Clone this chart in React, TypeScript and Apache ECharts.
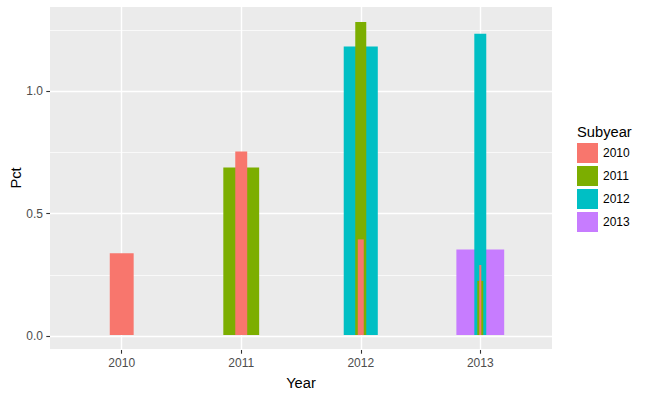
import React, { useEffect, useRef } from "react";
import * as echarts from "echarts";

// ---- data ----
const YEARS = ["2010", "2011", "2012", "2013"];
const SUBYEARS = ["2010", "2011", "2012", "2013"];
const PCT_2010 = [0.335, 0.752, 0.392, 0.287];
const PCT_2011 = [null, 0.687, 1.283, 0.222];
const PCT_2012 = [null, null, 1.183, 1.235];
const PCT_2013 = [null, null, null, 0.351];
// bar widths (in category units) as drawn in the reference
const WIDTH_2010 = [0.2, 0.1, 0.05, 0.017];
const WIDTH_2011 = [null, 0.3, 0.092, 0.05];
const WIDTH_2012 = [null, null, 0.285, 0.1];
const WIDTH_2013 = [null, null, null, 0.4];
const Y_MAJOR_STEP = 0.5;
const Y_MAJOR_MAX = 1.0;
const Y_MINOR_STEP = 0.25;
const Y_MINOR_MAX = 1.25;

const PCTS = [PCT_2010, PCT_2011, PCT_2012, PCT_2013];
const WIDTHS = [WIDTH_2010, WIDTH_2011, WIDTH_2012, WIDTH_2013];
const COLORS = ["#F8766D", "#7CAE00", "#00BFC4", "#C77CFF"];

// ---- layout ----
const FONT = "'Liberation Sans', Arial, sans-serif";
const PANEL = { left: 50, top: 7, right: 552, bottom: 350 };
const ZERO_Y = 336;
const PX_PER_UNIT = 244.67;
const X_EXPAND = 0.6;
const PANEL_W = PANEL.right - PANEL.left;
const PANEL_H = PANEL.bottom - PANEL.top;
const CAT_UNIT = PANEL_W / (YEARS.length - 1 + 2 * X_EXPAND);
const Y_MIN = -(PANEL.bottom - ZERO_Y) / PX_PER_UNIT;
const Y_MAX = (ZERO_Y - PANEL.top) / PX_PER_UNIT;

export default function App() {
  const ref = useRef<HTMLDivElement>(null);

  useEffect(() => {
    if (!ref.current) return;
    const chart = echarts.init(ref.current, undefined, { renderer: "svg" });

    const order = [3, 2, 1, 0]; // wider bars drawn first
    const series = order.map((s) => {
      const color = COLORS[s];
      const data: number[][] = [];
      PCTS[s].forEach((v, i) => {
        const w = WIDTHS[s][i];
        if (v !== null && w !== null) data.push([i, v as number, w as number]);
      });
      return {
        type: "custom",
        name: SUBYEARS[s],
        xAxisIndex: 0,
        yAxisIndex: 0,
        itemStyle: { color },
        encode: { x: 0, y: 1 },
        clip: false,
        silent: true,
        z: 5,
        data,
        renderItem: (_params: any, api: any) => {
          const x = api.value(0);
          const v = api.value(1);
          const w = api.value(2);
          const tl = api.coord([x - w / 2, v]);
          const br = api.coord([x + w / 2, 0]);
          return {
            type: "rect",
            shape: { x: tl[0], y: tl[1], width: br[0] - tl[0], height: br[1] - tl[1] },
            style: { fill: color },
          };
        },
      };
    });

    const hiddenValueAxis = (gridIndex: number) => ({
      gridIndex,
      type: "value",
      show: false,
      min: 0,
      max: 1,
    });

    chart.setOption({
      animation: false,
      textStyle: { fontFamily: FONT },
      grid: [
        {
          left: PANEL.left,
          top: PANEL.top,
          width: PANEL_W,
          height: PANEL_H,
          show: true,
          backgroundColor: "#EBEBEB",
          borderWidth: 0,
        },
        {
          left: PANEL.left,
          top: ZERO_Y - Y_MAJOR_MAX * PX_PER_UNIT,
          width: PANEL_W,
          height: Y_MAJOR_MAX * PX_PER_UNIT,
        },
        {
          left: PANEL.left + X_EXPAND * CAT_UNIT,
          top: PANEL.top,
          width: (YEARS.length - 1) * CAT_UNIT,
          height: PANEL_H,
        },
        {
          left: PANEL.left,
          top: ZERO_Y - Y_MINOR_MAX * PX_PER_UNIT,
          width: PANEL_W,
          height: Y_MINOR_MAX * PX_PER_UNIT,
        },
      ],
      xAxis: [
        {
          gridIndex: 0,
          type: "value",
          min: -X_EXPAND,
          max: YEARS.length - 1 + X_EXPAND,
          axisLine: { show: false },
          axisTick: { show: false },
          axisLabel: { show: false },
          splitLine: { show: false },
          name: "Year",
          nameLocation: "middle",
          nameGap: 26,
          nameTextStyle: { fontSize: 14.7, color: "#000", fontFamily: FONT },
        },
        hiddenValueAxis(1),
        {
          gridIndex: 2,
          type: "category",
          data: YEARS,
          boundaryGap: false,
          axisLine: { show: false },
          axisTick: { show: true, length: 3.7, lineStyle: { color: "#333333", width: 1.1 } },
          axisLabel: { color: "#4D4D4D", fontSize: 12, margin: 7, fontFamily: FONT },
          splitLine: { show: true, lineStyle: { color: "#FFFFFF", width: 1.4 } },
        },
        hiddenValueAxis(3),
      ],
      yAxis: [
        {
          gridIndex: 0,
          type: "value",
          min: Y_MIN,
          max: Y_MAX,
          axisLine: { show: false },
          axisTick: { show: false },
          axisLabel: { show: false },
          splitLine: { show: false },
          name: "Pct",
          nameLocation: "middle",
          nameRotate: 90,
          nameGap: 27,
          nameTextStyle: { fontSize: 14.7, color: "#000", fontFamily: FONT },
        },
        {
          gridIndex: 1,
          type: "value",
          min: 0,
          max: Y_MAJOR_MAX,
          interval: Y_MAJOR_STEP,
          axisLine: { show: false },
          axisTick: { show: true, length: 3.7, lineStyle: { color: "#333333", width: 1.1 } },
          axisLabel: {
            color: "#4D4D4D",
            fontSize: 12,
            margin: 7,
            fontFamily: FONT,
            formatter: (v: number) => v.toFixed(1),
          },
          splitLine: { show: true, lineStyle: { color: "#FFFFFF", width: 1.4 } },
        },
        hiddenValueAxis(2),
        {
          gridIndex: 3,
          type: "value",
          min: 0,
          max: Y_MINOR_MAX,
          interval: Y_MINOR_STEP,
          axisLine: { show: false },
          axisTick: { show: false },
          axisLabel: { show: false },
          splitLine: { show: true, lineStyle: { color: "#FFFFFF", width: 0.7 } },
        },
      ],
      legend: {
        data: SUBYEARS,
        orient: "vertical",
        left: 577,
        top: 143,
        padding: 0,
        icon: "rect",
        itemWidth: 21,
        itemHeight: 20,
        itemGap: 3,
        selectedMode: false,
        textStyle: { fontSize: 12, color: "#000", fontFamily: FONT },
      },
      graphic: [
        {
          type: "text",
          left: 577,
          top: 124,
          style: { text: "Subyear", fontSize: 14.7, fill: "#000", fontFamily: FONT },
        },
      ],
      series,
    });

    return () => chart.dispose();
  }, []);

  return (
    <div
      ref={ref}
      style={{ position: "fixed", left: 0, top: 0, width: 645, height: 395, background: "#fff" }}
    />
  );
}
